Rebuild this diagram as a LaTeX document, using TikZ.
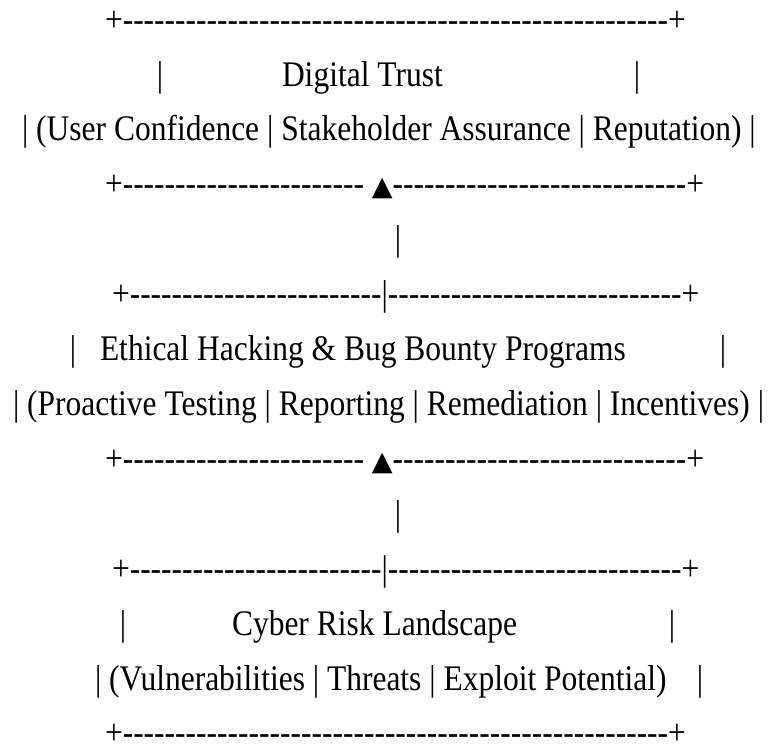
\documentclass[tikz,border=0pt]{standalone}
\usepackage{fontspec}
\setmainfont{Liberation Serif}[FakeStretch=0.875]
\newfontfamily\symfont{DejaVu Sans}
\usetikzlibrary{positioning}
\newcommand{\dashrun}[1]{\foreach \k in {1,...,#1}{-}}
\newcommand{\uptri}{{\symfont\fontsize{27}{30}\selectfont ▲}}
\tikzset{
  ascii/.style={inner sep=0pt,outer sep=0pt,anchor=base west,
                font=\fontsize{36}{40}\selectfont},
  bar/.style={ascii,anchor=base},
}

\begin{document}
\begin{tikzpicture}[x=1pt,y=-1pt]
  \useasboundingbox (0,0) rectangle (777,747);
  % top layer
  \node[ascii] (trustTop) at (105,31) {+\dashrun{52}+};
  \node[bar]   (trustL) at (160,86) {|};
  \node[ascii] (trustTitle) at (282,86) {Digital Trust};
  \node[bar]   (trustR) at (637,86) {|};
  \node[ascii] (trustSub) at (22,140)
    {| (User Confidence | Stakeholder Assurance | Reputation) |};
  \node[ascii] (trustBot) at (105,195) {+\dashrun{23} \uptri\dashrun{28}+};
  \node[bar]   (linkA) at (398,250) {|};
  % middle layer
  \node[ascii] (hackTop) at (112,305) {+\dashrun{24}|\dashrun{28}+};
  \node[bar]   (hackL) at (73,360) {|};
  \node[ascii] (hackTitle) at (100,360) {Ethical Hacking \& Bug Bounty Programs};
  \node[bar]   (hackR) at (723,360) {|};
  \node[ascii] (hackSub) at (13,415)
    {| (Proactive Testing | Reporting | Remediation | Incentives) |};
  \node[ascii] (hackBot) at (105,470) {+\dashrun{23} \uptri\dashrun{28}+};
  \node[bar]   (linkB) at (398,525) {|};
  % bottom layer
  \node[ascii] (riskTop) at (112,580) {+\dashrun{24}|\dashrun{28}+};
  \node[bar]   (riskL) at (123,635) {|};
  \node[ascii] (riskTitle) at (232,635) {Cyber Risk Landscape};
  \node[bar]   (riskR) at (672,635) {|};
  \node[ascii] (riskSub) at (95,690)
    {| (Vulnerabilities | Threats | Exploit Potential)};
  \node[bar]   (riskSubR) at (700,690) {|};
  \node[ascii] (riskBot) at (105,744) {+\dashrun{52}+};
\end{tikzpicture}
\end{document}
